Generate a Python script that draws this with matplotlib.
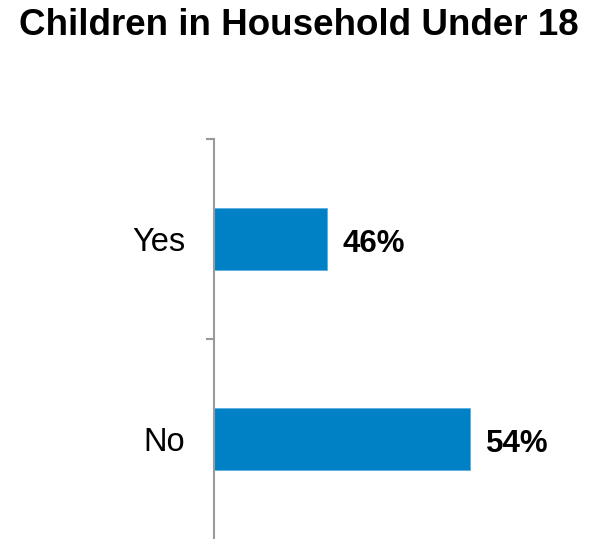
import matplotlib
matplotlib.use("Agg")
import matplotlib.pyplot as plt

categories = ["Yes", "No"]
values = [46, 54]
value_labels = ["46%", "54%"]

plt.rcParams["font.family"] = ["Liberation Sans", "DejaVu Sans"]

W, H = 597, 539
fig = plt.figure(figsize=(W / 100, H / 100), dpi=100)
ax = fig.add_axes([213.7 / W, 0, (577.6 - 213.7) / W, 400 / H])

ypos = list(range(len(categories)))[::-1]
ax.barh(ypos, values, height=0.31, color="#0081C6", edgecolor="#5AB0E3", linewidth=0.6)

for y, v, lab in zip(ypos, values, value_labels):
    ax.annotate(lab, (v, y), xytext=(11.5, -9), textcoords="offset points",
                va="baseline", ha="left", fontsize=22.5, fontweight="bold")

ax.set_xlim(39.7, 60)
ax.set_ylim(-0.5, len(categories) - 0.5)

for s in ["top", "right", "bottom"]:
    ax.spines[s].set_visible(False)
ax.spines["left"].set_color("#9A9A9A")
ax.spines["left"].set_linewidth(1.5)
ax.spines["left"].set_zorder(3)

# category boundaries get the tick marks, centres get the labels
ax.set_xticks([])
ax.set_yticks([0.5, 1.5])
ax.set_yticklabels([])
ax.tick_params(axis="y", which="major", length=5.8, width=1.5, color="#9A9A9A")
ax.set_yticks(ypos, minor=True)
ax.set_yticklabels(categories, minor=True, fontsize=23.5)
ax.tick_params(axis="y", which="minor", length=0, pad=20.5)

fig.text(0.5, 1 - 35 / H, "Children in Household Under 18", ha="center", va="baseline",
         fontsize=26.5, fontweight="bold")

fig.savefig("out.png", dpi=100)
